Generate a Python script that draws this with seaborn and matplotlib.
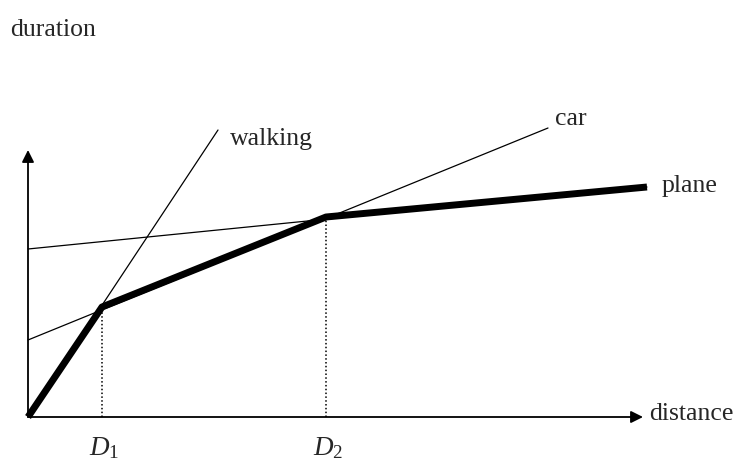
import matplotlib
matplotlib.use("Agg")
import matplotlib.pyplot as plt
import pandas as pd
import seaborn as sns

sns.set_theme(style="white")
plt.rcParams['font.family'] = ['Liberation Serif', 'DejaVu Serif']
plt.rcParams['mathtext.fontset'] = 'custom'
plt.rcParams['mathtext.rm'] = 'Liberation Serif'
plt.rcParams['mathtext.it'] = 'Liberation Serif:italic'

# line endpoints (distance, duration) in arbitrary units
walking_x = [0, 19.0]
walking_y = [0, 28.7]
car_x = [0, 52.0]
car_y = [7.7, 28.9]
plane_x = [0, 61.9]
plane_y = [16.8, 23.0]

# lower envelope (fastest mode)
best_x = [0, 7.4, 29.8, 61.9]
best_y = [0, 11.0, 20.0, 23.0]

break_x = [7.4, 29.8]
break_y = [11.0, 20.0]
break_labels = ['$D_1$', '$D_2$']

x_max = 61.5
y_max = 26.7

lines = pd.concat([
    pd.DataFrame({'distance': walking_x, 'duration': walking_y, 'mode': 'walking'}),
    pd.DataFrame({'distance': car_x, 'duration': car_y, 'mode': 'car'}),
    pd.DataFrame({'distance': plane_x, 'duration': plane_y, 'mode': 'plane'}),
])

fig = plt.figure(figsize=(7.36, 4.62), dpi=100)
ax = fig.add_axes([0, 0, 1, 1])

sns.lineplot(data=lines, x='distance', y='duration', units='mode', estimator=None,
             color='black', linewidth=0.9, sort=False, ax=ax, legend=False)
sns.lineplot(x=best_x, y=best_y, color='black', linewidth=5, sort=False, ax=ax,
             legend=False, solid_capstyle='butt')

ax.vlines(break_x, 0, break_y, colors='black', linestyles=(0, (1, 1.5)), linewidth=1.1)

# axes with arrows
arrow = dict(arrowstyle='-|>', color='black', lw=1.3, mutation_scale=18, shrinkA=0, shrinkB=0)
ax.annotate('', xy=(x_max, 0), xytext=(0, 0), arrowprops=arrow)
ax.annotate('', xy=(0, y_max), xytext=(0, 0), arrowprops=arrow)

fs = 18.5
ax.text(x_max + 0.6, -0.3, 'distance', fontsize=fs, va='baseline', ha='left')
ax.text(-1.8, 38.1, 'duration', fontsize=fs, va='baseline', ha='left')
ax.text(walking_x[1] + 1.2, 27.2, 'walking', fontsize=fs, va='baseline', ha='left')
ax.text(car_x[1] + 0.7, 29.2, 'car', fontsize=fs, va='baseline', ha='left')
ax.text(plane_x[1] + 1.5, 22.5, 'plane', fontsize=fs, va='baseline', ha='left')
for bx, lab in zip(break_x, break_labels):
    ax.text(bx + 0.2, -3.8, lab, fontsize=fs + 1, va='baseline', ha='center')

ax.set_xlim(-2.8, 70.8)
ax.set_ylim(-4.5, 41.7)
ax.axis('off')

fig.savefig('out.png', dpi=100)
